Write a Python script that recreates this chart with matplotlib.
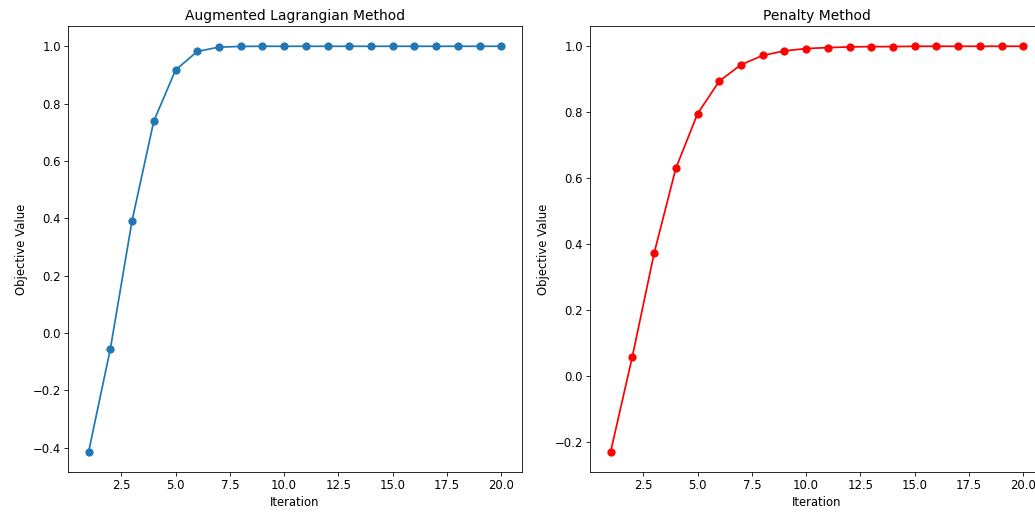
from matplotlib import pyplot as plt

iterations = list(range(1, 21))

# valeurs
alm_values = [-0.414, -0.055, 0.392, 0.739, 0.917, 0.982, 0.997, 0.9995, 1.0, 1.0,
              1.0, 1.0, 1.0, 1.0, 1.0, 1.0, 1.0, 1.0, 1.0, 1.0]
penalty_values = [-0.231, 0.058, 0.371, 0.629, 0.795, 0.894, 0.944, 0.972, 0.986, 0.993,
                  0.996, 0.998, 0.999, 0.999, 1.0, 1.0, 1.0, 1.0, 1.0, 1.0]

plt.rcParams["font.size"] = 11.3

dpi = 74
fig = plt.figure(figsize=(1035 / dpi, 512 / dpi), dpi=dpi)

ax0 = fig.add_axes([68 / 1035, 40 / 512, 454 / 1035, 446 / 512])
ax1 = fig.add_axes([590 / 1035, 40 / 512, 454 / 1035, 446 / 512])

ax0.plot(iterations, alm_values, marker="o", markersize=7, linewidth=1.7, color="#1f77b4")
ax0.set_title("Augmented Lagrangian Method", fontsize=13.5)
ax0.set_xlabel("Iteration")
ax0.set_ylabel("Objective Value")

ax1.plot(iterations, penalty_values, marker="o", markersize=7, linewidth=1.7, color="red")
ax1.set_title("Penalty Method", fontsize=13.5)
ax1.set_xlabel("Iteration")
ax1.set_ylabel("Objective Value")

fig.savefig("out.png", dpi=dpi)
